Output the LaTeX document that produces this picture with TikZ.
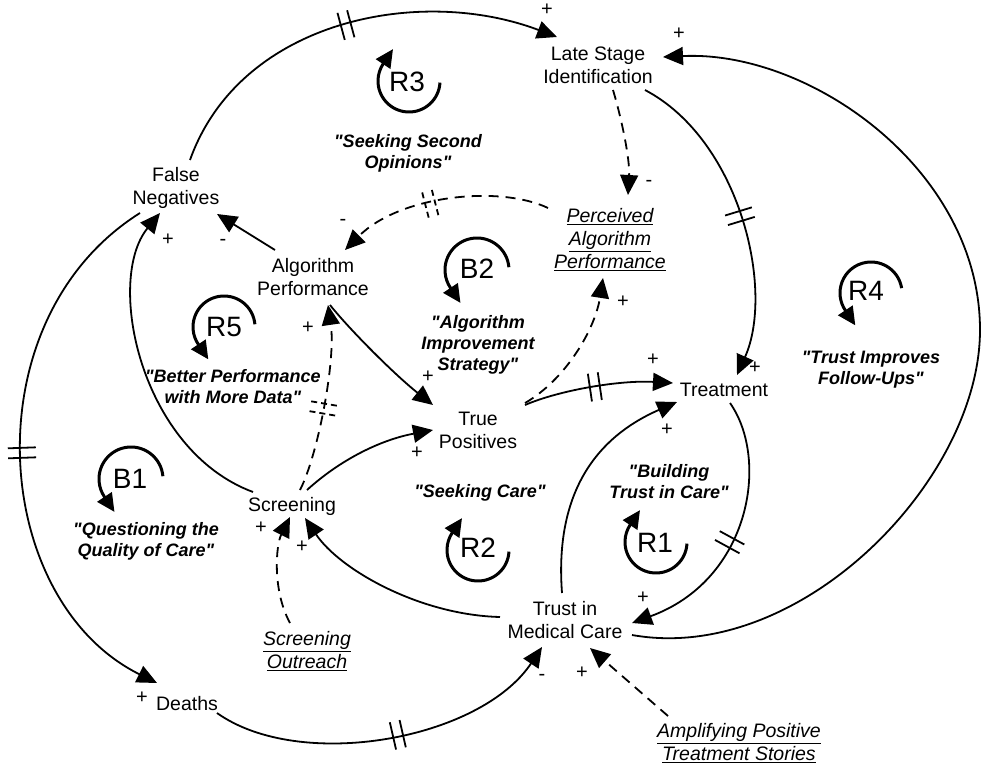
\documentclass[tikz,border=0pt]{standalone}
\usepackage{fontspec}
\setmainfont{Liberation Sans}[Ligatures=TeXOff]
\usetikzlibrary{arrows.meta,calc,decorations.markings}
\begin{document}
\begin{tikzpicture}[x=1pt,y=-1pt,
  varnode/.style={align=center,font=\fontsize{19.5}{23}\selectfont,inner sep=0pt},
  lever/.style={align=center,font=\fontsize{19.5}{23}\selectfont\itshape,inner sep=0pt},
  loopcap/.style={align=center,font=\fontsize{18}{21}\selectfont\bfseries\itshape,inner sep=0pt},
  pol/.style={font=\fontsize{20}{20}\selectfont,inner sep=0pt},
  loopname/.style={font=\fontsize{28}{28}\selectfont,inner sep=0pt},
  link/.style={line width=1.8pt,-{Triangle[length=20pt,width=18pt]}},
  dlink/.style={link,dash pattern=on 10pt off 7pt},
  loopar/.style={line width=3pt,-{Triangle[length=18pt,width=17pt]}},
  dly/.style={postaction={decorate,decoration={markings,mark=at position #1 with {\draw[line width=1.8pt,solid,-] (-5,-14)--(-5,14) (5,-14)--(5,14);}}}},
  ddly/.style={postaction={decorate,decoration={markings,mark=at position #1 with {\draw[line width=1.8pt,dash pattern=on 6pt off 4pt,-] (-5,-13)--(-5,13) (5,-13)--(5,13);}}}},
]
\fill[white] (0,0) rectangle (983,765);
\useasboundingbox (0,0) rectangle (983,765);

% variables
\node[varnode] (ls) at (598,65) {Late Stage\\Identification};
\node[varnode] (fn) at (176,188) {False\\Negatives};
\node[varnode] (ap) at (313,277) {Algorithm\\Performance};
\node[lever] (pap) at (610,240) {\underline{Perceived}\\\underline{Algorithm}\\\underline{Performance}};
\node[varnode] (tp) at (478,430) {True\\Positives};
\node[varnode] (tr) at (724,390) {Treatment};
\node[varnode] (sc) at (292,506) {Screening};
\node[lever] (so) at (307,651) {\underline{Screening}\\\underline{Outreach}};
\node[varnode] (de) at (187,704) {Deaths};
\node[varnode] (tm) at (565,620) {Trust in\\Medical Care};
\node[lever] (amp) at (739,743) {\underline{Amplifying Positive}\\\underline{Treatment Stories}};

% links
\draw[link,dly=0.5] ($(fn)+(14,-28)$) .. controls (240,20) and (420,-15) .. ($(ls)+(-41,-28)$);
\draw[dlink] ($(ls)+(15,25)$) .. controls (622,120) and (630,160) .. ($(pap)+(18,-45)$);
\draw[link,dly=0.5] ($(ls)+(47,25)$) .. controls (740,140) and (775,290) .. ($(tr)+(13,-15)$);
\draw[link] ($(tm)+(67,15)$) .. controls (800,665) and (980,480) .. (980,330) .. controls (980,170) and (810,50) .. ($(ls)+(65,-8)$);
\draw[dlink,ddly=0.55] ($(pap)+(-62,-32)$) .. controls (500,185) and (400,195) .. ($(ap)+(32,-27)$);
\draw[link] ($(ap)+(-38,-27)$) -- ($(fn)+(41,26)$);
\draw[link] ($(sc)+(-39,-14)$) .. controls (140,450) and (105,280) .. ($(fn)+(-16,25)$);
\draw[link,dly=0.5] ($(fn)+(-36,25)$) .. controls (-30,320) and (-10,600) .. ($(de)+(-30,-21)$);
\draw[link,dly=0.52] ($(de)+(30,9)$) .. controls (300,772) and (480,740) .. ($(tm)+(-23,27)$);
\draw[link] ($(tm)+(-65,-3)$) .. controls (420,615) and (340,570) .. ($(sc)+(13,12)$);
\draw[dlink] ($(so)+(-17,-28)$) .. controls (272,590) and (276,545) .. ($(sc)+(-2,11)$);
\draw[link] ($(sc)+(15,-16)$) .. controls (340,460) and (380,440) .. ($(tp)+(-45,0)$);
\draw[dlink,ddly=0.45] ($(sc)+(8,-16)$) .. controls (318,455) and (336,360) .. ($(ap)+(15,28)$);
\draw[link] ($(ap)+(17,28)$) .. controls (350,330) and (395,375) .. ($(tp)+(-45,-25)$);
\draw[link,dly=0.48] ($(tp)+(47,-25)$) .. controls (560,390) and (620,380) .. ($(tr)+(-51,-7)$);
\draw[dlink] ($(tp)+(47,-27)$) .. controls (565,380) and (595,330) .. ($(pap)+(-7,38)$);
\draw[link] ($(tm)+(-3,-27)$) .. controls (555,500) and (590,440) .. ($(tr)+(-47,12)$);
\draw[link,dly=0.53] ($(tr)+(6,13)$) .. controls (770,460) and (750,580) .. ($(tm)+(67,3)$);
\draw[dlink] ($(amp)+(-71,-27)$) -- ($(tm)+(25,28)$);

% polarities
\node[pol] (p1) at (547,10) {+};
\node[pol] (p2) at (649,183) {-};
\node[pol] (p3) at (755,368) {+};
\node[pol] (p4) at (679,34) {+};
\node[pol] (p5) at (343,222) {-};
\node[pol] (p6) at (223,242) {-};
\node[pol] (p7) at (168,240) {+};
\node[pol] (p8) at (142,698) {+};
\node[pol] (p9) at (542,677) {-};
\node[pol] (p10) at (302,547) {+};
\node[pol] (p11) at (261,528) {+};
\node[pol] (p12) at (417,453) {+};
\node[pol] (p13) at (308,328) {+};
\node[pol] (p14) at (428,377) {+};
\node[pol] (p15) at (653,360) {+};
\node[pol] (p16) at (623,302) {+};
\node[pol] (p17) at (667,430) {+};
\node[pol] (p18) at (643,598) {+};
\node[pol] (p19) at (582,673) {+};

% loops: arrow up at top-left
\draw[loopar] (409,81) ++(3:31) arc[start angle=3,end angle=213,radius=31] -- ++(10,-15);
\draw[loopar] (656,542) ++(3:31) arc[start angle=3,end angle=213,radius=31] -- ++(10,-15);
\draw[loopar] (478,550) ++(3:31) arc[start angle=3,end angle=213,radius=31] -- ++(10,-15);
% arrow down at bottom-left
\draw[loopar] (477,270) ++(-5:32) arc[start angle=-5,end angle=-214,radius=32] -- ++(10,15);
\draw[loopar] (224,327) ++(-5:31) arc[start angle=-5,end angle=-214,radius=31] -- ++(10,15);
\draw[loopar] (131,479) ++(-5:32) arc[start angle=-5,end angle=-214,radius=32] -- ++(10,15);
\draw[loopar] (871,293) ++(-9:31) arc[start angle=-9,end angle=-214,radius=31] -- ++(10,15);

\node[loopname] (r3) at (407,82) {R3};
\node[loopname] (r1) at (655,543) {R1};
\node[loopname] (r2) at (478,548) {R2};
\node[loopname] (b2) at (477,269) {B2};
\node[loopname] (r5) at (224,327) {R5};
\node[loopname] (b1) at (130,479) {B1};
\node[loopname] (r4) at (866,291) {R4};

% loop captions
\node[loopcap] (c3) at (408,153) {"Seeking Second\\Opinions"};
\node[loopcap] (cb2) at (478,345) {"Algorithm\\Improvement\\Strategy"};
\node[loopcap] (c5) at (233,387) {"Better Performance\\with More Data"};
\node[loopcap] (c4) at (871,370) {"Trust Improves\\Follow-Ups"};
\node[loopcap] (c1) at (669,482) {"Building\\Trust in Care"};
\node[loopcap] (c2) at (480,493) {"Seeking Care"};
\node[loopcap] (cb1) at (146,541) {"Questioning the\\Quality of Care"};
\end{tikzpicture}
\end{document}
